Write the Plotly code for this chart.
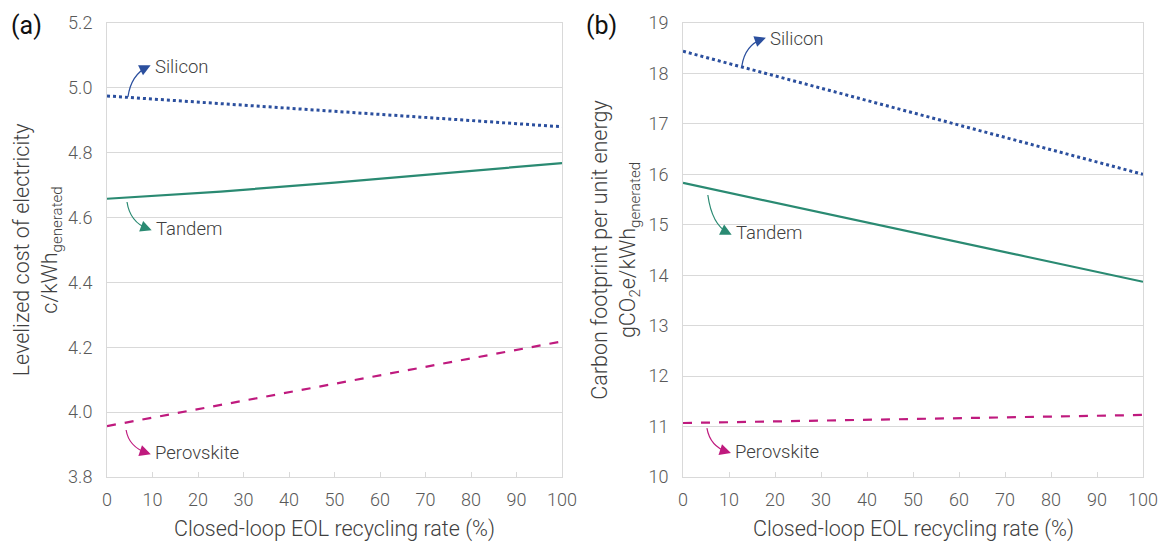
import math
import plotly.graph_objects as go

# ---- data ----
recycling_rate = [0, 25, 50, 75, 100]

lcoe_silicon = [4.975, 4.952, 4.928, 4.904, 4.880]
lcoe_tandem = [4.658, 4.680, 4.708, 4.738, 4.768]
lcoe_perovskite = [3.957, 4.022, 4.087, 4.152, 4.218]

cf_silicon = [18.44, 17.83, 17.22, 16.61, 16.00]
cf_tandem = [15.83, 15.34, 14.85, 14.36, 13.87]
cf_perovskite = [11.07, 11.11, 11.15, 11.19, 11.23]

x_ticks = [0, 10, 20, 30, 40, 50, 60, 70, 80, 90, 100]
lcoe_ticks = [3.8, 4.0, 4.2, 4.4, 4.6, 4.8, 5.0, 5.2]
cf_ticks = [10, 11, 12, 13, 14, 15, 16, 17, 18, 19]

X_TITLE = "Closed-loop EOL recycling rate (%)"

C_SI = "#2B4F9E"
C_TA = "#2A8A72"
C_PE = "#BF1A7E"
FONT = "Roboto"
TXT = "#404040"
TICK = "#595959"
GRID = "#D9D9D9"

W, H = 1160, 542
fig = go.Figure()

def add_lines(xa, ya, si, ta, pe):
    fig.add_trace(go.Scatter(x=recycling_rate, y=si, mode="lines", xaxis=xa, yaxis=ya,
                             line=dict(color=C_SI, width=3, dash="dot"), showlegend=False))
    fig.add_trace(go.Scatter(x=recycling_rate, y=ta, mode="lines", xaxis=xa, yaxis=ya,
                             line=dict(color=C_TA, width=2.2), showlegend=False))
    fig.add_trace(go.Scatter(x=recycling_rate, y=pe, mode="lines", xaxis=xa, yaxis=ya,
                             line=dict(color=C_PE, width=2.2, dash="dash"), showlegend=False))

add_lines("x", "y", lcoe_silicon, lcoe_tandem, lcoe_perovskite)
add_lines("x2", "y2", cf_silicon, cf_tandem, cf_perovskite)

def fx(px):
    return px / W

def fy(py):
    return 1 - py / H

ydom = [fy(477), fy(23)]
tfont = dict(family=FONT, size=21.5, color=TXT, weight=300)
axis_common = dict(showgrid=True, gridcolor=GRID, gridwidth=1, showline=True, linecolor=GRID,
                   linewidth=1, mirror=True, zeroline=False, automargin=False,
                   tickfont=dict(family=FONT, size=18, color=TICK, weight=300))
xcommon = dict(axis_common, range=[0, 100], tickvals=x_ticks, showgrid=False,
               ticks="inside", ticklen=5, tickcolor=GRID, ticklabelstandoff=6)
xdom1 = [fx(107), fx(562)]
xdom2 = [fx(683), fx(1143)]
fig.update_layout(
    width=W, height=H, margin=dict(l=0, r=0, t=0, b=0, autoexpand=False),
    paper_bgcolor="white", plot_bgcolor="white",
    xaxis=dict(xcommon, domain=xdom1, anchor="y"),
    xaxis2=dict(xcommon, domain=xdom2, anchor="y2"),
    yaxis=dict(axis_common, domain=ydom, range=[3.8, 5.2], tickvals=lcoe_ticks,
               tickformat=".1f", anchor="x", ticks="outside", ticklen=10, tickcolor="rgba(0,0,0,0)",
               title=dict(text="Levelized cost of electricity<br>c/kWh<sub>generated</sub>",
                          font=tfont, standoff=4)),
    yaxis2=dict(axis_common, domain=ydom, range=[10, 19], tickvals=cf_ticks, anchor="x2",
                ticks="outside", ticklen=10, tickcolor="rgba(0,0,0,0)",
                title=dict(text="Carbon footprint per unit energy<br>gCO<sub>2</sub>e/kWh<sub>generated</sub>",
                           font=tfont, standoff=6)),
)

# x-axis titles
for dom in (xdom1, xdom2):
    fig.add_annotation(text=X_TITLE, xref="paper", yref="paper", x=(dom[0] + dom[1]) / 2,
                       y=fy(529), xanchor="center", yanchor="middle", showarrow=False,
                       font=tfont)

# panel labels
for txt, xp in [("(a)", 9), ("(b)", 584)]:
    fig.add_annotation(text=txt, xref="paper", yref="paper", x=fx(xp), y=fy(25),
                       xanchor="left", yanchor="middle", showarrow=False,
                       font=dict(family=FONT, size=25, color="#111111"))

# pixel scale per data unit for each panel (for arrowhead direction)
scale = {"x": (455 / 100, 454 / 1.4), "x2": (460 / 100, 454 / 9)}

# curved callout arrows + labels: (xref, yref, start, control, end, label, color)
callouts = [
    ("x", "y", (4.6, 4.972), (5.3, 5.040), (8.8, 5.064), "Silicon", C_SI),
    ("x", "y", (4.4, 4.648), (5.05, 4.586), (9.0, 4.565), "Tandem", C_TA),
    ("x", "y", (4.2, 3.945), (4.8, 3.893), (8.8, 3.874), "Perovskite", C_PE),
    ("x2", "y2", (12.8, 18.15), (13.5, 18.56), (17.2, 18.68), "Silicon", C_SI),
    ("x2", "y2", (5.4, 15.59), (6.3, 15.00), (9.8, 14.84), "Tandem", C_TA),
    ("x2", "y2", (5.2, 10.97), (5.9, 10.61), (9.6, 10.50), "Perovskite", C_PE),
]
for xr, yr, s, c, e, label, col in callouts:
    sx, sy = scale[xr]
    dxp = (e[0] - c[0]) * sx
    dyp = -(e[1] - c[1]) * sy
    n = math.hypot(dxp, dyp)
    ux, uy = dxp / n, dyp / n
    fig.add_shape(type="path", xref=xr, yref=yr,
                  path=f"M {s[0]},{s[1]} Q {c[0]},{c[1]} {e[0]},{e[1]}",
                  line=dict(color=col, width=1.2))
    tipx = e[0] + 4 * ux / sx
    tipy = e[1] - 4 * uy / sy
    fig.add_annotation(xref=xr, yref=yr, x=tipx, y=tipy, ax=-8 * ux, ay=-8 * uy,
                       showarrow=True, arrowhead=2, arrowsize=1.5, arrowwidth=1.5,
                       arrowcolor=col, text="")
    fig.add_annotation(xref=xr, yref=yr, x=e[0] + 1.3, y=e[1], text=label,
                       xanchor="left", yanchor="middle", showarrow=False,
                       font=dict(family=FONT, size=18.5, color=TXT, weight=300))

fig.write_html("out.html", config={"displayModeBar": False},
               post_script="document.body.style.margin='0';document.body.style.overflow='hidden';")
